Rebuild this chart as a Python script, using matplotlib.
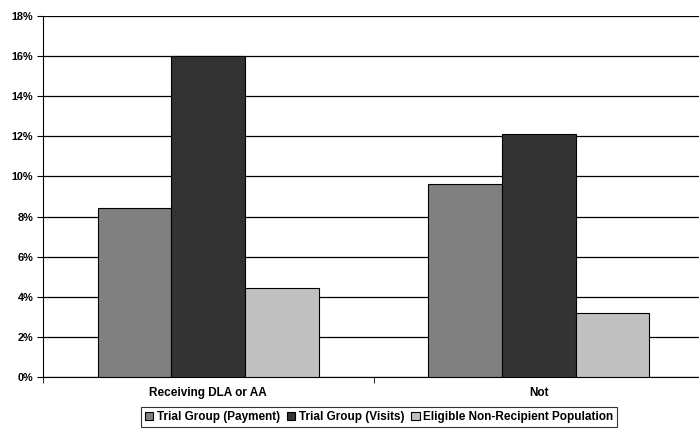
import matplotlib
matplotlib.use("Agg")
import matplotlib.pyplot as plt
import numpy as np
from matplotlib.ticker import FuncFormatter, FixedLocator

categories = ["Receiving DLA or AA", "Not"]
series_names = ["Trial Group (Payment)", "Trial Group (Visits)", "Eligible Non-Recipient Population"]
payment = [8.45, 9.6]
visits = [16.0, 12.13]
eligible = [4.42, 3.18]
colors = ["#808080", "#333333", "#C0C0C0"]

plt.rcParams['font.family'] = ['Liberation Sans', 'DejaVu Sans']
plt.rcParams['font.weight'] = 'bold'

fig = plt.figure(figsize=(6.99, 4.30), dpi=100)
ax = fig.add_axes([43/699, 1-377/430, (704-43)/699, (377-16)/430])

x = np.arange(len(categories))
w = 0.223
for i, (vals, name, c) in enumerate(zip([payment, visits, eligible], series_names, colors)):
    ax.bar(x + (i-1)*w, vals, width=w, color=c, edgecolor='black', linewidth=0.8, label=name, zorder=3)

ax.set_xlim(-0.5, 1.5)
ax.set_ylim(0, 18)
ax.set_yticks(np.arange(0, 19, 2))
ax.yaxis.set_major_formatter(FuncFormatter(lambda v, p: f"{int(v)}%"))
ax.yaxis.grid(True, color='black', linewidth=0.9, zorder=0)
ax.set_axisbelow(True)

ax.set_xticks(x)
ax.set_xticklabels(categories, fontsize=8.5, fontweight='bold')
ax.tick_params(axis='x', length=0, pad=7)
ax.xaxis.set_minor_locator(FixedLocator([-0.5, 0.5, 1.5]))
ax.tick_params(axis='x', which='minor', length=4, color='black')
ax.tick_params(axis='y', labelsize=7.8, length=4, pad=3)
for t in ax.get_yticklabels():
    t.set_fontweight('bold')

for s in ['top', 'right']:
    ax.spines[s].set_visible(False)
ax.spines['left'].set_color('black')
ax.spines['bottom'].set_color('black')

leg = fig.legend(loc='center', bbox_to_anchor=(379/699, 1-417/430), ncol=3,
                 frameon=True, fancybox=False, edgecolor='black', handlelength=0.7, handleheight=0.7,
                 handletextpad=0.3, columnspacing=0.6, borderpad=0.3, prop={'weight': 'bold', 'size': 8.5})
leg.get_frame().set_linewidth(0.8)

fig.savefig("out.png", dpi=100)
